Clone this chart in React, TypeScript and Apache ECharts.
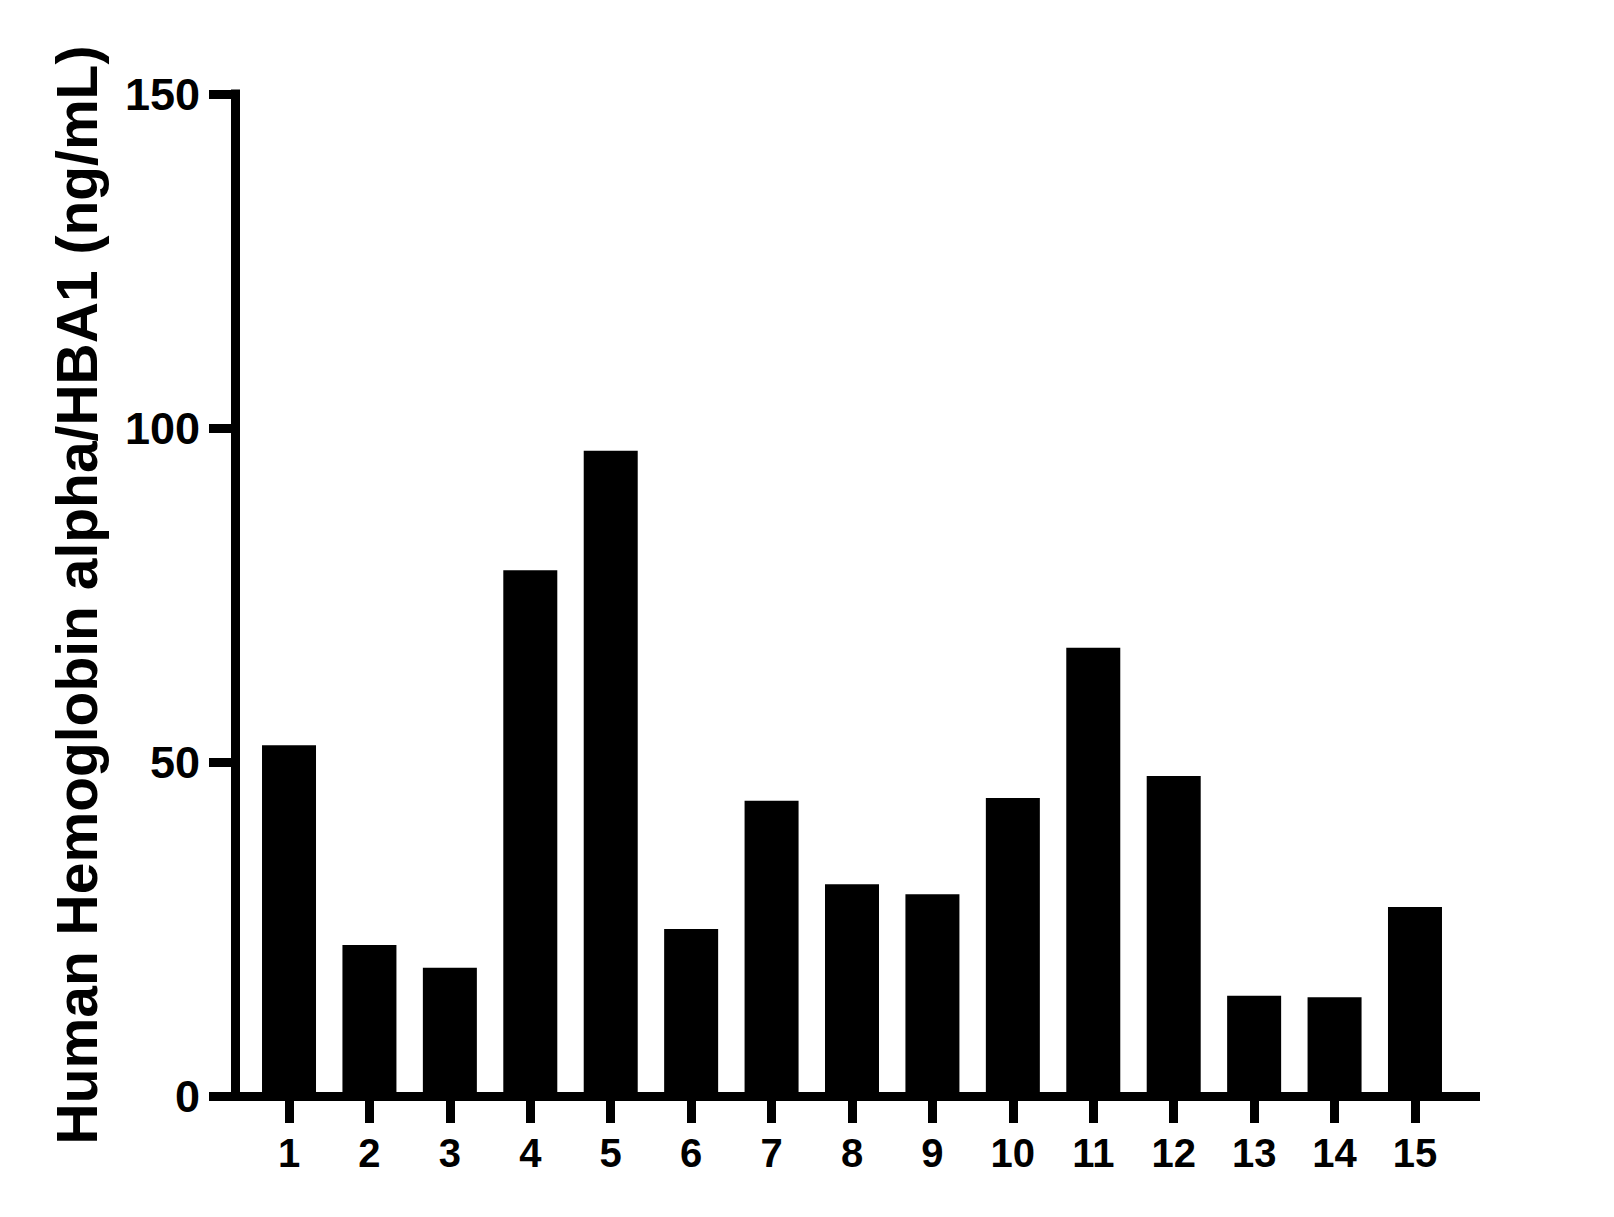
import React, { useEffect, useRef } from "react";
import * as echarts from "echarts";

const categories = ["1", "2", "3", "4", "5", "6", "7", "8", "9", "10", "11", "12", "13", "14", "15"];
const values = [52.5, 22.6, 19.2, 78.7, 96.6, 25.0, 44.2, 31.7, 30.2, 44.6, 67.1, 47.9, 15.0, 14.8, 28.3];
const yTicks = { min: 0, max: 150, interval: 50 };
const yTitle = "Human Hemoglobin alpha/HBA1 (ng/mL)";

const FONT = "'Liberation Sans', Arial, Helvetica, sans-serif";
const W = 1614;
const H = 1217;

export default function App() {
  const ref = useRef<HTMLDivElement>(null);
  useEffect(() => {
    if (!ref.current) return;
    const chart = echarts.init(ref.current, undefined, { renderer: "svg" });
    const plotTop = 94;
    const plotBottom = H - 1096;
    chart.setOption({
      animation: false,
      backgroundColor: "#ffffff",
      grid: [
        { left: 248.8, right: W - 1455.2, top: plotTop, bottom: plotBottom, containLabel: false },
        { left: 209, right: W - 1480, top: plotTop, bottom: plotBottom, containLabel: false },
      ],
      xAxis: [
        {
          type: "category",
          gridIndex: 0,
          data: categories,
          axisLine: { show: false },
          axisTick: { show: true, alignWithLabel: true, length: 27, lineStyle: { color: "#000", width: 9, cap: "butt" } },
          axisLabel: { margin: 37, fontSize: 40, fontWeight: "bold", color: "#000", fontFamily: FONT },
          splitLine: { show: false },
        },
        {
          type: "value",
          gridIndex: 1,
          min: 0,
          max: 1,
          axisLine: { show: true, lineStyle: { color: "#000", width: 9, cap: "butt" } },
          axisTick: { show: false },
          axisLabel: { show: false },
          splitLine: { show: false },
        },
      ],
      yAxis: [
        {
          type: "value",
          gridIndex: 0,
          min: yTicks.min,
          max: yTicks.max,
          interval: yTicks.interval,
          offset: 13.3,
          axisLine: { show: true, lineStyle: { color: "#000", width: 9, cap: "square" } },
          axisTick: { show: true, length: 26.5, lineStyle: { color: "#000", width: 9, cap: "butt" } },
          axisLabel: { margin: 35.5, fontSize: 45, fontWeight: "bold", color: "#000", fontFamily: FONT },
          splitLine: { show: false },
          name: yTitle,
          nameLocation: "middle",
          nameRotate: 90,
          nameGap: 130,
          nameTextStyle: { fontSize: 57, fontWeight: "bold", color: "#000", fontFamily: FONT },
        },
        {
          type: "value",
          gridIndex: 1,
          show: false,
          min: 0,
          max: 1,
        },
      ],
      series: [
        {
          type: "bar",
          xAxisIndex: 0,
          yAxisIndex: 0,
          data: values,
          barWidth: 54,
          itemStyle: { color: "#000" },
        },
      ],
    });
    return () => chart.dispose();
  }, []);
  return (
    <div
      ref={ref}
      style={{ position: "fixed", left: 0, top: 0, width: W, height: H, background: "#fff" }}
    />
  );
}
